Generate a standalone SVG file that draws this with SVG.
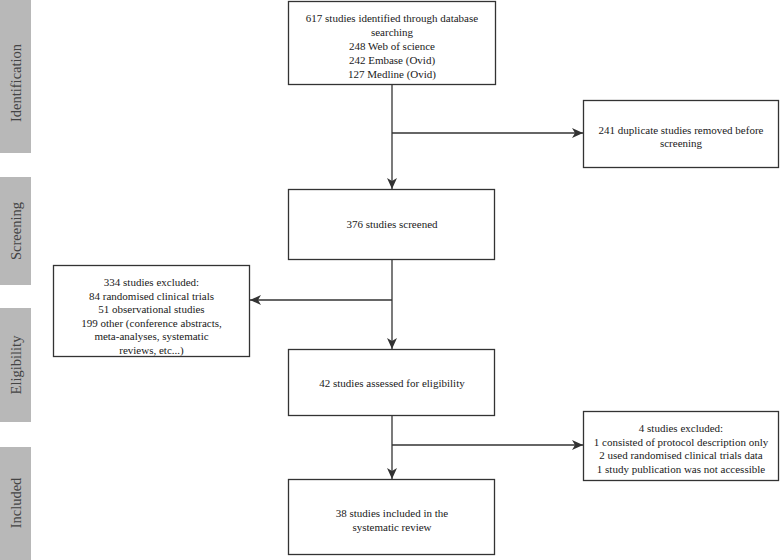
<svg xmlns="http://www.w3.org/2000/svg" width="780" height="560" viewBox="0 0 780 560">
<style>
.bar{fill:#b8b8b8}
.bt{font-family:"Liberation Serif","Times New Roman",serif;font-size:14.5px;fill:#444;text-anchor:middle}
.box{fill:#fff;stroke:#333;stroke-width:1.3}
.t{font-family:"Liberation Serif","Times New Roman",serif;font-size:11px;fill:#1a1a1a;text-anchor:middle}
.ln{fill:none;stroke:#333;stroke-width:1.3}
</style>
<defs>
<marker id="ah" markerWidth="12" markerHeight="12" viewBox="0 0 12 12" refX="11" refY="6" orient="auto" markerUnits="userSpaceOnUse">
<path d="M0,1 L11,6 L0,11 L3,6 Z" fill="#333"/>
</marker>
</defs>
<rect width="780" height="560" fill="#fff"/>
<g id="phase-identification"><rect class="bar" x="0" y="0" width="31" height="153"/><text class="bt" transform="translate(21,83) rotate(-90)">Identification</text></g>
<g id="phase-screening"><rect class="bar" x="0" y="177" width="31" height="108"/><text class="bt" transform="translate(21,231) rotate(-90)">Screening</text></g>
<g id="phase-eligibility"><rect class="bar" x="0" y="308" width="31" height="114"/><text class="bt" transform="translate(21,365) rotate(-90)">Eligibility</text></g>
<g id="phase-included"><rect class="bar" x="0" y="447" width="31" height="113"/><text class="bt" transform="translate(21,503) rotate(-90)">Included</text></g>

<g id="connectors">
<line class="ln" x1="392" y1="84" x2="392" y2="189" marker-end="url(#ah)"/>
<line class="ln" x1="392" y1="133" x2="583" y2="133" marker-end="url(#ah)"/>
<line class="ln" x1="392" y1="259" x2="392" y2="349" marker-end="url(#ah)"/>
<line class="ln" x1="392" y1="300" x2="250" y2="300" marker-end="url(#ah)"/>
<line class="ln" x1="392" y1="416" x2="392" y2="479" marker-end="url(#ah)"/>
<line class="ln" x1="392" y1="445" x2="583" y2="445" marker-end="url(#ah)"/>
</g>

<g id="identified"><rect class="box" x="288.5" y="1.5" width="207" height="83"/>
<text class="t" x="392" y="22">617 studies identified through database</text>
<text class="t" x="392" y="36">searching</text>
<text class="t" x="392" y="50">248 Web of science</text>
<text class="t" x="392" y="64">242 Embase (Ovid)</text>
<text class="t" x="392" y="78">127 Medline (Ovid)</text></g>

<g id="duplicates"><rect class="box" x="583.5" y="100.5" width="195" height="67"/>
<text class="t" x="681" y="134">241 duplicate studies removed before</text>
<text class="t" x="681" y="147">screening</text></g>

<g id="screened"><rect class="box" x="288.5" y="189.5" width="206" height="70"/>
<text class="t" x="392" y="228">376 studies screened</text></g>

<g id="excluded334"><rect class="box" x="53.5" y="265.5" width="196" height="91"/>
<text class="t" x="151.5" y="286">334 studies excluded:</text>
<text class="t" x="151.5" y="299.5">84 randomised clinical trials</text>
<text class="t" x="151.5" y="313">51 observational studies</text>
<text class="t" x="151.5" y="326.5">199 other (conference abstracts,</text>
<text class="t" x="151.5" y="340">meta-analyses, systematic</text>
<text class="t" x="151.5" y="353.5">reviews, etc...)</text></g>

<g id="eligibility"><rect class="box" x="288.5" y="349.5" width="206" height="66"/>
<text class="t" x="392" y="387">42 studies assessed for eligibility</text></g>

<g id="excluded4"><rect class="box" x="583.5" y="411.5" width="195" height="69"/>
<text class="t" x="681" y="432">4 studies excluded:</text>
<text class="t" x="681" y="445.5">1 consisted of protocol description only</text>
<text class="t" x="681" y="459">2 used randomised clinical trials data</text>
<text class="t" x="681" y="472.5">1 study publication was not accessible</text></g>

<g id="included"><rect class="box" x="288.5" y="479.5" width="206" height="75"/>
<text class="t" x="392" y="517">38 studies included in the</text>
<text class="t" x="392" y="531">systematic review</text></g>
</svg>
